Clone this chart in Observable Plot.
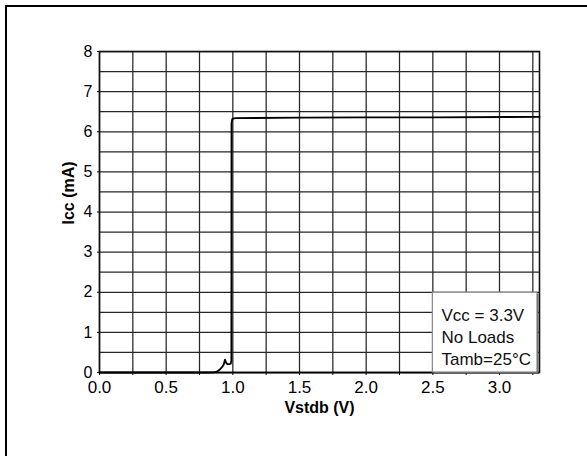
<!DOCTYPE html>
<html>
<head>
<meta charset="utf-8">
<script src="https://cdn.jsdelivr.net/npm/d3@7"></script>
<script src="https://cdn.jsdelivr.net/npm/@observablehq/plot@0.6"></script>
<style>
  html, body { margin: 0; padding: 0; background: #fff; }
  #wrap { position: relative; width: 587px; height: 456px; overflow: hidden; }
  #edge { position: absolute; left: 5px; top: 5px; width: 590px; height: 460px;
          border-left: 2px solid #000; border-top: 2px solid #000; }
  #chart { position: absolute; left: 0; top: 0; }
</style>
</head>
<body>
<div id="wrap"><div id="edge"></div><div id="chart"></div></div>
<script>
// Data
const vstdb = [0, 0.5, 0.8, 0.86, 0.885, 0.905, 0.92, 0.932, 0.941, 0.95, 0.959, 0.975, 0.985, 0.989, 0.990, 0.996, 1.02, 1.5, 2.0, 2.5, 3.3];
const icc   = [0, 0,   0,   0.005, 0.03, 0.08, 0.14, 0.2,  0.32,  0.24, 0.21, 0.21, 0.22, 0.3, 6.2,  6.32,  6.34, 6.35, 6.36, 6.36, 6.37];

const xGrid = d3.range(0, 3.3, 0.25);           // 0, 0.25, ... 3.25
const yGrid = d3.range(0, 8.01, 0.5);           // 0, 0.5, ... 8
const xLabelTicks = [0, 0.5, 1.0, 1.5, 2.0, 2.5, 3.0];
const yTicks = [0, 1, 2, 3, 4, 5, 6, 7, 8];

const noteLines = ["Vcc = 3.3V", "No Loads", "Tamb=25°C"];
const noteBox = [{x1: 2.5, x2: 3.285, y1: 0, y2: 1.99}];
const noteAnchor = [{x: 2.565, y: 1.68}];

const xLabel = "Vstdb (V)";
const yLabel = "Icc (mA)";

const curve = vstdb.map((v, i) => ({v, i: icc[i]}));

const font = "'Liberation Sans', Arial, sans-serif";

const chart = Plot.plot({
  width: 587,
  height: 456,
  marginLeft: 99,
  marginRight: 48,
  marginTop: 51,
  marginBottom: 84,
  style: {fontFamily: font, color: "#000", background: "transparent", overflow: "visible"},
  x: {domain: [0, 3.3]},
  y: {domain: [0, 8]},
  marks: [
    Plot.ruleX(xGrid, {stroke: "#262626", strokeWidth: 1.25}),
    Plot.ruleY(yGrid, {stroke: "#262626", strokeWidth: 1.25}),
    Plot.frame({stroke: "#111", strokeWidth: 1.6}),
    Plot.axisY({ticks: yTicks, tickSize: 2, tickPadding: 5, fontSize: 16, label: null}),
    Plot.axisX({ticks: xGrid, tickSize: 3, tickFormat: () => "", label: null}),
    Plot.axisX({ticks: xLabelTicks, tickSize: 0, tickPadding: 8, tickFormat: d3.format(".1f"), fontSize: 17, label: null}),
    Plot.ruleY([0], {stroke: "#000", strokeWidth: 1.6}),
    Plot.line(curve, {x: "v", y: "i", stroke: "#000", strokeWidth: 1.8}),
    Plot.rect(noteBox, {x1: "x1", x2: "x2", y1: "y1", y2: "y2", fill: "#555", dx: 1.5, dy: 1.5}),
    Plot.rect(noteBox, {x1: "x1", x2: "x2", y1: "y1", y2: "y2", fill: "#fff", stroke: "#888", strokeWidth: 1.2}),
    Plot.text(noteAnchor, {x: "x", y: "y", text: () => noteLines.join("\n"), textAnchor: "start", lineAnchor: "top", lineHeight: 1.3, fontSize: 17, fill: "#111"}),
    Plot.text([yLabel], {frameAnchor: "left", dx: -31, dy: 12.5, rotate: -90, fontSize: 16, fontWeight: "bold", fill: "#000"}),
    Plot.text([xLabel], {frameAnchor: "bottom", dy: 40, fontSize: 16, fontWeight: "bold", fill: "#000"})
  ]
});
document.getElementById("chart").appendChild(chart);
</script>
</body>
</html>
